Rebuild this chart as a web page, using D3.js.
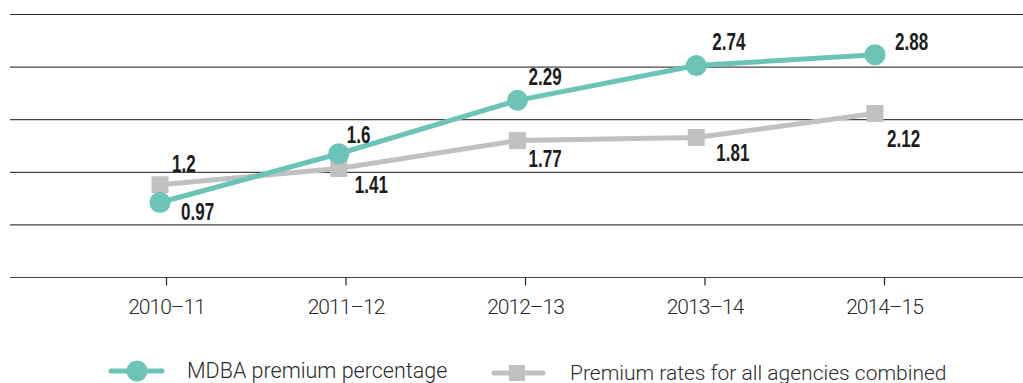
<!DOCTYPE html>
<html>
<head>
<meta charset="utf-8">
<script src="https://cdn.jsdelivr.net/npm/d3@7"></script>
<style>
  html, body { margin: 0; padding: 0; background: #fff; }
  svg { display: block; }
</style>
</head>
<body>
<svg id="chart" width="1023" height="383"></svg>
<script>
// Financial years on the horizontal axis
const years = ["2010–11", "2011–12", "2012–13", "2013–14", "2014–15"];

// Premium percentages per year
const mdbaPremium = [0.97, 1.6, 2.29, 2.74, 2.88];
const allAgenciesPremium = [1.2, 1.41, 1.77, 1.81, 2.12];

// Legend entries
const seriesNames = ["MDBA premium percentage", "Premium rates for all agencies combined"];

// Value-label placement relative to each marker (dx, dy to text baseline)
const mdbaLabelOffsets = [[21, 18], [8, -11], [11, -15], [16, -16], [20, -5]];
const agencyLabelOffsets = [[12, -13], [16, 25], [11, 26], [20, 24], [12, 33]];

const W = 1023, H = 383;
const teal = "#6cc3b8";
const grey = "#c1c1c1";

const svg = d3.select("#chart");

// Scales
const yMax = 3.4;
const y = d3.scaleLinear().domain([0, yMax]).range([277.5, 14.5]);
const xPts = d3.scalePoint().domain(years).range([160, 875]);
const xAxisScale = d3.scalePoint().domain(years).range([166, 884]);

// Horizontal gridlines (no value labels)
const gridValues = d3.range(6).map(i => yMax * i / 5);
svg.append("g")
  .selectAll("line")
  .data(gridValues)
  .join("line")
  .attr("x1", 10)
  .attr("x2", W)
  .attr("y1", d => y(d))
  .attr("y2", d => y(d))
  .attr("stroke", (d, i) => i === gridValues.length - 1 ? "#2a2a2a" : "#444")
  .attr("stroke-width", 1.2);

// Category axis along the baseline
const xAxis = d3.axisBottom(xAxisScale).tickSize(8).tickPadding(14);
const gx = svg.append("g")
  .attr("transform", `translate(0,${y(0)})`)
  .call(xAxis);
gx.select(".domain").remove();
gx.selectAll(".tick line").attr("stroke", "#222").attr("stroke-width", 1.2);
gx.selectAll(".tick text")
  .attr("fill", "#2b2b2b")
  .style("font-family", "Roboto, 'Liberation Sans', sans-serif")
  .style("font-weight", 300)
  .style("font-size", "21px")
  .style("letter-spacing", "-1px");

// Series lines
const line = d3.line()
  .x((d, i) => xPts(years[i]))
  .y(d => y(d));

svg.append("path")
  .datum(allAgenciesPremium)
  .attr("d", line)
  .attr("fill", "none")
  .attr("stroke", grey)
  .attr("stroke-width", 5);

svg.append("g")
  .selectAll("rect")
  .data(allAgenciesPremium)
  .join("rect")
  .attr("x", (d, i) => xPts(years[i]) - 8.5)
  .attr("y", d => y(d) - 8.5)
  .attr("width", 17)
  .attr("height", 17)
  .attr("fill", grey);

svg.append("path")
  .datum(mdbaPremium)
  .attr("d", line)
  .attr("fill", "none")
  .attr("stroke", teal)
  .attr("stroke-width", 5);

svg.append("g")
  .selectAll("circle")
  .data(mdbaPremium)
  .join("circle")
  .attr("cx", (d, i) => xPts(years[i]))
  .attr("cy", d => y(d))
  .attr("r", 10.5)
  .attr("fill", teal);

// Value labels in a condensed face
function valueLabels(values, offsets) {
  svg.append("g")
    .selectAll("text")
    .data(values)
    .join("text")
    .attr("transform", (d, i) =>
      `translate(${xPts(years[i]) + offsets[i][0]},${y(d) + offsets[i][1]}) scale(0.74,1)`)
    .attr("fill", "#1c1c1c")
    .style("font-family", "'Liberation Sans Narrow', 'Arial Narrow', sans-serif")
    .style("font-weight", "bold")
    .style("font-size", "23px")
    .text(d => d);
}
valueLabels(allAgenciesPremium, agencyLabelOffsets);
valueLabels(mdbaPremium, mdbaLabelOffsets);

// Legend
const legend = svg.append("g");
const lg1 = legend.append("g").attr("transform", "translate(0,371)");
lg1.append("line")
  .attr("x1", 111).attr("x2", 162).attr("y1", 0).attr("y2", 0)
  .attr("stroke", teal).attr("stroke-width", 5).attr("stroke-linecap", "round");
lg1.append("circle").attr("cx", 137).attr("cy", 0).attr("r", 10.5).attr("fill", teal);
lg1.append("text")
  .attr("x", 187).attr("y", 6.5)
  .attr("fill", "#2b2b2b")
  .style("font-family", "Roboto, 'Liberation Sans', sans-serif")
  .style("font-weight", 300)
  .style("font-size", "21.5px")
  .text(seriesNames[0]);

const lg2 = legend.append("g").attr("transform", "translate(0,373)");
lg2.append("line")
  .attr("x1", 494).attr("x2", 543).attr("y1", 0).attr("y2", 0)
  .attr("stroke", grey).attr("stroke-width", 5).attr("stroke-linecap", "round");
lg2.append("rect").attr("x", 509).attr("y", -8).attr("width", 16).attr("height", 16).attr("fill", grey);
lg2.append("text")
  .attr("x", 570).attr("y", 6.5)
  .attr("fill", "#2b2b2b")
  .style("font-family", "Roboto, 'Liberation Sans', sans-serif")
  .style("font-weight", 300)
  .style("font-size", "21px")
  .text(seriesNames[1]);
</script>
</body>
</html>
